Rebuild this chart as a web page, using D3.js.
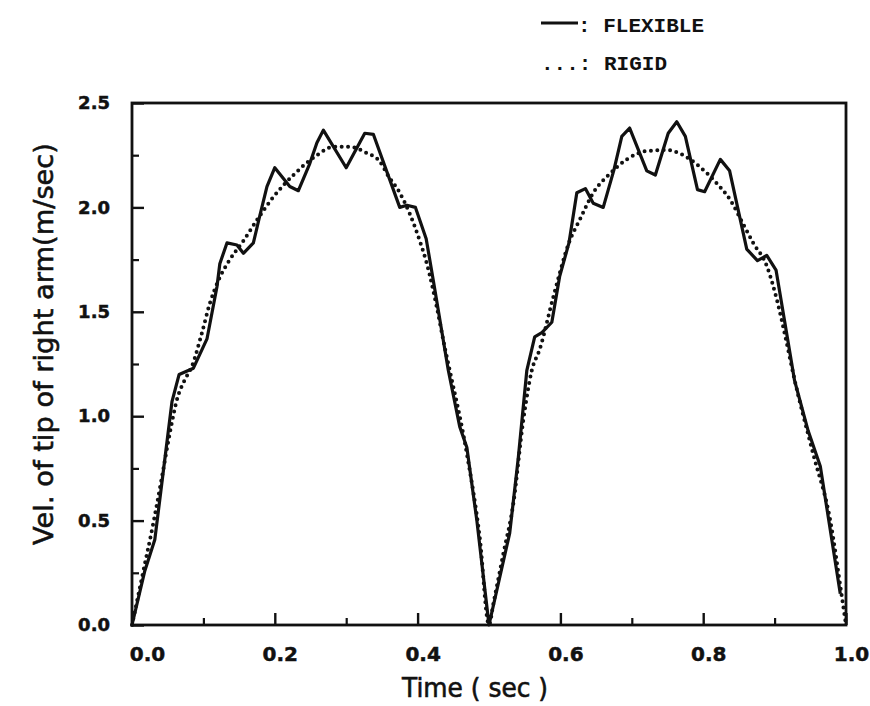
<!DOCTYPE html>
<html>
<head>
<meta charset="utf-8">
<script src="https://cdn.jsdelivr.net/npm/d3@7"></script>
<style>
  html, body { margin: 0; padding: 0; background: #fff; }
  svg { display: block; }
</style>
</head>
<body>
<svg id="chart" width="870" height="706"></svg>
<script>
// ---- Data ----
const flexTime = [0.000, 0.018, 0.032, 0.044, 0.056, 0.066, 0.086, 0.105, 0.119, 0.123, 0.133, 0.147, 0.156, 0.170, 0.179, 0.189, 0.200, 0.221, 0.233, 0.249, 0.259, 0.268, 0.300, 0.326, 0.338, 0.375, 0.385, 0.397, 0.412, 0.422, 0.443, 0.459, 0.469, 0.483, 0.500,
                  0.529, 0.541, 0.553, 0.564, 0.574, 0.588, 0.599, 0.612, 0.623, 0.635, 0.646, 0.660, 0.675, 0.686, 0.697, 0.721, 0.733, 0.751, 0.763, 0.775, 0.792, 0.802, 0.824, 0.837, 0.861, 0.876, 0.889, 0.902, 0.928, 0.947, 0.964, 0.992];
const flexVel  = [0.00, 0.26, 0.41, 0.74, 1.07, 1.20, 1.23, 1.37, 1.62, 1.73, 1.83, 1.82, 1.78, 1.83, 1.96, 2.10, 2.19, 2.10, 2.08, 2.21, 2.31, 2.37, 2.19, 2.355, 2.35, 2.00, 2.01, 2.00, 1.85, 1.65, 1.22, 0.95, 0.85, 0.50, 0.00,
                  0.44, 0.80, 1.22, 1.38, 1.40, 1.45, 1.67, 1.83, 2.07, 2.09, 2.02, 2.00, 2.18, 2.34, 2.38, 2.175, 2.155, 2.355, 2.41, 2.34, 2.085, 2.075, 2.23, 2.175, 1.80, 1.745, 1.77, 1.70, 1.17, 0.93, 0.76, 0.15];

const rigidTime = [0.000, 0.016, 0.030, 0.042, 0.053, 0.063, 0.074, 0.084, 0.098, 0.109, 0.121, 0.137, 0.156, 0.177, 0.198, 0.226, 0.259, 0.282, 0.305, 0.329, 0.347, 0.359, 0.375, 0.389, 0.403, 0.413, 0.427, 0.438, 0.445, 0.469, 0.487, 0.500,
                   0.506, 0.520, 0.534, 0.548, 0.560, 0.571, 0.590, 0.613, 0.627, 0.646, 0.669, 0.693, 0.721, 0.749, 0.772, 0.795, 0.819, 0.838, 0.856, 0.870, 0.889, 0.903, 0.917, 0.926, 0.954, 0.978, 0.994, 1.000];
const rigidVel  = [0.00, 0.26, 0.49, 0.71, 0.92, 1.08, 1.175, 1.24, 1.40, 1.54, 1.65, 1.75, 1.84, 1.95, 2.05, 2.155, 2.25, 2.29, 2.29, 2.26, 2.22, 2.15, 2.07, 1.97, 1.84, 1.73, 1.52, 1.33, 1.22, 0.82, 0.42, 0.00,
                   0.10, 0.34, 0.58, 0.98, 1.22, 1.32, 1.57, 1.84, 1.94, 2.07, 2.16, 2.23, 2.27, 2.275, 2.25, 2.195, 2.115, 2.035, 1.92, 1.83, 1.72, 1.56, 1.35, 1.205, 0.82, 0.50, 0.14, 0.00];

const xMajorTicks = [0.0, 0.2, 0.4, 0.6, 0.8, 1.0];
const xMinorTicks = [0.1, 0.3, 0.5, 0.7, 0.9];
const yMajorTicks = [0.0, 0.5, 1.0, 1.5, 2.0, 2.5];
const yMinorTicks = [0.25, 0.75, 1.25, 1.75, 2.25];

const xTitle = "Time ( sec )";
const yTitle = "Vel. of tip of right arm(m/sec)";
const legendFlexible = ": FLEXIBLE";
const legendRigid = "...: RIGID";

// ---- Layout ----
const svg = d3.select("#chart");
const plot = { left: 132, right: 846, top: 103, bottom: 625 };

const x = d3.scaleLinear().domain([0, 1]).range([plot.left, plot.right]);
const y = d3.scaleLinear().domain([0, 2.5]).range([plot.bottom, plot.top]);

const ink = "#111";

// Frame
svg.append("rect")
  .attr("x", plot.left).attr("y", plot.top)
  .attr("width", plot.right - plot.left).attr("height", plot.bottom - plot.top)
  .attr("fill", "none").attr("stroke", ink).attr("stroke-width", 2.8);

// Y axis major ticks + labels
const yAxis = svg.append("g")
  .attr("transform", `translate(${plot.left},0)`)
  .call(d3.axisLeft(y).tickValues(yMajorTicks).tickFormat(d3.format(".1f"))
        .tickSizeInner(-12).tickSizeOuter(0).tickPadding(22));
yAxis.select(".domain").remove();
yAxis.selectAll("line").attr("stroke", ink).attr("stroke-width", 2.4);
yAxis.selectAll("text")
  .attr("font-family", "'DejaVu Sans', sans-serif")
  .attr("font-weight", "bold").attr("font-size", 18).attr("fill", ink)
  .attr("stroke", ink).attr("stroke-width", 0.5);

// Y minor ticks
const yMinor = svg.append("g")
  .attr("transform", `translate(${plot.left},0)`)
  .call(d3.axisLeft(y).tickValues(yMinorTicks).tickFormat("")
        .tickSizeInner(-7).tickSizeOuter(0));
yMinor.select(".domain").remove();
yMinor.selectAll("line").attr("stroke", ink).attr("stroke-width", 2.2);

// X axis major ticks + labels
const xAxis = svg.append("g")
  .attr("transform", `translate(0,${plot.bottom})`)
  .call(d3.axisBottom(x).tickValues(xMajorTicks).tickFormat(d3.format(".1f"))
        .tickSizeInner(-12).tickSizeOuter(0).tickPadding(22));
xAxis.select(".domain").remove();
xAxis.selectAll("line").attr("stroke", ink).attr("stroke-width", 2.4);
xAxis.selectAll("text")
  .attr("font-family", "'DejaVu Sans', sans-serif")
  .attr("font-weight", "bold").attr("font-size", 20).attr("fill", ink)
  .attr("stroke", ink).attr("stroke-width", 0.5)
  .attr("dx", (d, i) => i === 0 ? 15 : 5);

// X minor ticks
const xMinor = svg.append("g")
  .attr("transform", `translate(0,${plot.bottom})`)
  .call(d3.axisBottom(x).tickValues(xMinorTicks).tickFormat("")
        .tickSizeInner(-7).tickSizeOuter(0));
xMinor.select(".domain").remove();
xMinor.selectAll("line").attr("stroke", ink).attr("stroke-width", 2.2);

// Axis titles
svg.append("text")
  .attr("x", 475).attr("y", 697)
  .attr("text-anchor", "middle")
  .attr("font-family", "'DejaVu Sans', sans-serif")
  .attr("font-size", 26).attr("fill", ink)
  .attr("stroke", ink).attr("stroke-width", 0.6)
  .attr("textLength", 146).attr("lengthAdjust", "spacingAndGlyphs")
  .text(xTitle);

svg.append("text")
  .attr("transform", "translate(53,344) rotate(-90)")
  .attr("text-anchor", "middle")
  .attr("font-family", "'DejaVu Sans', sans-serif")
  .attr("font-size", 27).attr("fill", ink)
  .attr("stroke", ink).attr("stroke-width", 0.6)
  .attr("textLength", 402).attr("lengthAdjust", "spacingAndGlyphs")
  .text(yTitle);

// Series
const flexData = flexTime.map((t, i) => [t, flexVel[i]]);
const rigidData = rigidTime.map((t, i) => [t, rigidVel[i]]);

svg.append("path")
  .datum(rigidData)
  .attr("fill", "none").attr("stroke", ink)
  .attr("stroke-width", 4).attr("stroke-linecap", "round")
  .attr("stroke-dasharray", "0 6.4")
  .attr("d", d3.line().x(d => x(d[0])).y(d => y(d[1])).curve(d3.curveMonotoneX));

svg.append("path")
  .datum(flexData)
  .attr("fill", "none").attr("stroke", ink)
  .attr("stroke-width", 3.2).attr("stroke-linejoin", "round")
  .attr("d", d3.line().x(d => x(d[0])).y(d => y(d[1])));

// Legend
const legendFont = "'Liberation Mono', 'DejaVu Sans Mono', monospace";
svg.append("line")
  .attr("x1", 541).attr("x2", 578).attr("y1", 23).attr("y2", 23)
  .attr("stroke", ink).attr("stroke-width", 3);
svg.append("text")
  .attr("x", 578).attr("y", 32)
  .attr("font-family", legendFont).attr("font-weight", "bold")
  .attr("font-size", 21).attr("fill", ink)
  .text(legendFlexible);
svg.append("text")
  .attr("x", 541).attr("y", 70)
  .attr("font-family", legendFont).attr("font-weight", "bold")
  .attr("font-size", 21).attr("fill", ink)
  .text(legendRigid);
</script>
</body>
</html>
